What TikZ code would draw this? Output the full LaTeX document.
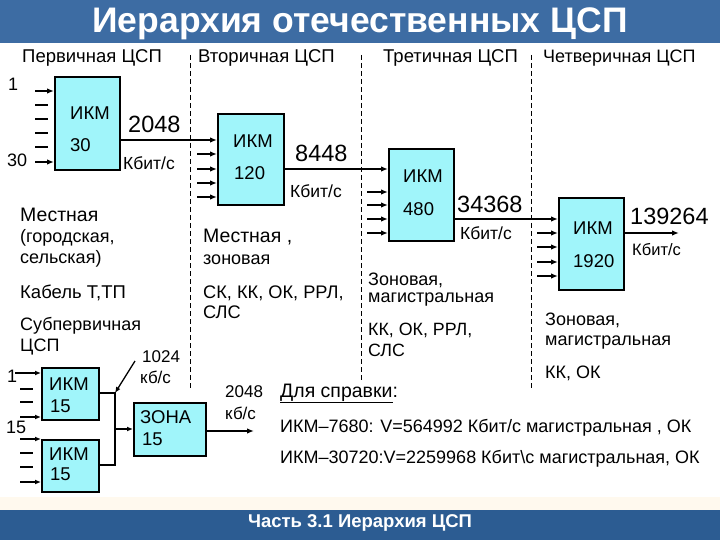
\documentclass[tikz,border=0pt]{standalone}
\usepackage{fontspec}
\setmainfont{Liberation Sans}
\usetikzlibrary{arrows.meta,calc}
\definecolor{titleblue}{RGB}{61,108,163}
\definecolor{footblue}{RGB}{44,92,146}
\definecolor{boxcyan}{RGB}{160,245,250}
\definecolor{creamband}{RGB}{255,249,238}
\newcommand{\fsz}[1]{\fontsize{#1}{#1}\selectfont}
\begin{document}
\begin{tikzpicture}[x=1pt,y=-1pt,
  box/.style={draw=black, line width=2pt, fill=boxcyan, inner sep=0pt, anchor=north west},
  arr/.style={line width=1.8pt, -{Latex[length=7pt,width=5.5pt]}},
  thinarr/.style={line width=1.3pt, -{Latex[length=6pt,width=5pt]}},
  stub/.style={line width=1.8pt},
  sepline/.style={line width=0.8pt, dash pattern=on 5pt off 3pt},
  txt/.style={anchor=base west, inner sep=0pt, font=\fsz{18}},
  boxtxt/.style={anchor=base west, inner sep=0pt, font=\fsz{18.5}},
  head/.style={anchor=base west, inner sep=0pt, font=\fsz{18.5}},
  big/.style={anchor=base west, inner sep=0pt, font=\fsz{23.5}},
  rate/.style={anchor=base west, inner sep=0pt, font=\fsz{17.5}}]
\useasboundingbox (0,0) rectangle (720,540);
\fill[white] (0,0) rectangle (720,540);
\fill[titleblue] (0,0) rectangle (720,43);
\fill[creamband] (0,497) rectangle (720,510);
\fill[footblue] (0,510) rectangle (720,540);
\node[anchor=base, inner sep=0pt, text=white, font=\bfseries\fsz{35.5}] (title) at (360,33) {Иерархия отечественных ЦСП};
\node[anchor=base, inner sep=0pt, text=white, font=\bfseries\fsz{18.5}] (foot) at (360,527) {Часть 3.1 Иерархия ЦСП};

% column headings
\node[head] (h1) at (22,63) {Первичная ЦСП};
\node[head] (h2) at (198,63) {Вторичная ЦСП};
\node[head] (h3) at (383,63) {Третичная ЦСП};
\node[head, font=\fsz{18}] (h4) at (543,63) {Четверичная ЦСП};

% separators
\draw[sepline] (190,55) -- (190,388);
\draw[sepline] (361,55) -- (361,380);
\draw[sepline] (531,55) -- (531,388);

% boxes
\node[box, minimum width=65, minimum height=93] (b1) at (54,76) {};
\node[box, minimum width=66, minimum height=91] (b2) at (217,113) {};
\node[box, minimum width=65, minimum height=92] (b3) at (388,148) {};
\node[box, minimum width=65, minimum height=92] (b4) at (558,197) {};

\node[boxtxt] (b1a) at (70,120) {ИКМ};
\node[boxtxt] (b1b) at (70,152) {30};
\node[boxtxt] (b2a) at (233,148) {ИКМ};
\node[boxtxt] (b2b) at (234,180) {120};
\node[boxtxt] (b3a) at (403,183) {ИКМ};
\node[boxtxt] (b3b) at (403,215) {480};
\node[boxtxt] (b4a) at (573,235) {ИКМ};
\node[boxtxt] (b4b) at (573,267) {1920};

% inputs of box 1
\node[txt] (in1) at (8,91) {1};
\node[txt] (in30) at (7,167) {30};
\draw[arr] ([xshift=-19]b1.west |- 0,91) -- (b1.west |- 0,91);
\foreach \yy in {105,119,133,147} \draw[stub] ([xshift=-19]b1.west |- 0,\yy) -- ([xshift=-6]b1.west |- 0,\yy);
\draw[arr] ([xshift=-19]b1.west |- 0,162) -- (b1.west |- 0,162);

% inputs of box 2,3,4
\foreach \yy in {154,169,183,197} \draw[arr] ([xshift=-20]b2.west |- 0,\yy) -- (b2.west |- 0,\yy);
\foreach \yy in {192,205,219,233} \draw[arr] ([xshift=-21]b3.west |- 0,\yy) -- (b3.west |- 0,\yy);
\foreach \yy in {233,247,262,276} \draw[arr] ([xshift=-21]b4.west |- 0,\yy) -- (b4.west |- 0,\yy);

% links between boxes
\draw[arr] (b1.east |- 0,140) -- (b2.west |- 0,140);
\draw[arr] (b2.east |- 0,169) -- (b3.west |- 0,169);
\draw[arr] (b3.east |- 0,219) -- (b4.west |- 0,219);
\coordinate (out4) at (679,233);
\draw[arr] (b4.east |- out4) -- (out4);

% rates
\node[big] (r1) at (128,133) {2048};
\node[rate] (r1u) at (123,170) {Кбит/с};
\node[big] (r2) at (295,162) {8448};
\node[rate] (r2u) at (290,198) {Кбит/с};
\node[big] (r3) at (457,212) {34368};
\node[rate] (r3u) at (460,240) {Кбит/с};
\node[big] (r4) at (630,225) {139264};
\node[rate, font=\fsz{16.5}] (r4u) at (632,255) {Кбит/с};

% column 1 descriptions
\node[txt, font=\fsz{19.5}] (c1a) at (20,222) {Местная};
\node[txt] (c1b) at (20,242) {(городская,};
\node[txt] (c1c) at (20,263) {сельская)};
\node[txt, font=\fsz{18.5}] (c1d) at (20,298) {Кабель Т,ТП};
\node[txt] (c1e) at (20,330) {Субпервичная};
\node[txt] (c1f) at (20,351) {ЦСП};

% column 2 descriptions
\node[txt, font=\fsz{19.5}] (c2a) at (203,242) {Местная ,};
\node[txt] (c2b) at (203,264) {зоновая};
\node[txt, font=\fsz{18.2}] (c2c) at (203,298) {СК, КК, ОК, РРЛ,};
\node[txt, font=\fsz{18.2}] (c2d) at (203,318) {СЛС};

% column 3 descriptions
\node[txt] (c3a) at (368,285) {Зоновая,};
\node[txt] (c3b) at (368,302) {магистральная};
\node[txt, font=\fsz{17.8}] (c3c) at (368,335) {КК, ОК, РРЛ,};
\node[txt, font=\fsz{17.8}] (c3d) at (368,356) {СЛС};

% column 4 descriptions
\node[txt] (c4a) at (545,325) {Зоновая,};
\node[txt] (c4b) at (545,345) {магистральная};
\node[txt] (c4c) at (545,378) {КК, ОК};

% sub-primary
\node[box, minimum width=57, minimum height=52] (s1) at (41,367) {};
\node[box, minimum width=57, minimum height=52] (s2) at (41,439) {};
\node[box, minimum width=72, minimum height=53] (z) at (133,402) {};
\node[boxtxt] (s1a) at (49,390) {ИКМ};
\node[boxtxt] (s1b) at (50,412) {15};
\node[boxtxt] (s2a) at (49,460) {ИКМ};
\node[boxtxt] (s2b) at (50,480) {15};
\node[boxtxt] (za) at (140,423) {ЗОНА};
\node[boxtxt] (zb) at (142,445) {15};

\node[txt] (sin1) at (7,382) {1};
\node[txt] (sin15) at (6,433) {15};
\draw[thinarr] ([xshift=-26]s1.west |- 0,373) -- (s1.west |- 0,373);
\foreach \yy in {389,402} \draw[stub] ([xshift=-21]s1.west |- 0,\yy) -- ([xshift=-8]s1.west |- 0,\yy);
\draw[thinarr] ([xshift=-21]s1.west |- 0,417) -- (s1.west |- 0,417);
\draw[thinarr] ([xshift=-21]s2.west |- 0,439) -- (s2.west |- 0,439);
\foreach \yy in {453,467} \draw[stub] ([xshift=-21]s2.west |- 0,\yy) -- ([xshift=-8]s2.west |- 0,\yy);
\draw[thinarr] ([xshift=-21]s2.west |- 0,482) -- (s2.west |- 0,482);

\coordinate (bustop) at (115,393);
\coordinate (busbot) at (115,465);
\coordinate (busmid) at (115,429);
\draw[line width=1.3pt] (s1.east |- bustop) -- (bustop) -- (busbot) -- (s2.east |- busbot);
\draw[thinarr] (busmid) -- (z.west |- busmid);
\coordinate (zout) at (254,431);
\draw[arr] (z.east |- zout) -- (zout);

\node[txt, font=\fsz{17}] (k1) at (142,362) {1024};
\node[txt, font=\fsz{17}] (k1u) at (140,383) {кб/с};
\coordinate (kfrom) at (135,361);
\draw[thinarr] (kfrom) -- (bustop);

\node[txt, font=\fsz{17}] (k2) at (225,397) {2048};
\node[txt, font=\fsz{17}] (k2u) at (225,419) {кб/с};

% reference notes
\node[txt, font=\fsz{19.5}] (ref) at (280,397) {\underline{Для справки}:};
\node[txt] (ref1) at (280,432) {ИКМ–7680: V=564992 Кбит/с магистральная , ОК};
\node[txt] (ref2) at (280,463) {ИКМ–30720:V=2259968 Кбит\textbackslash с магистральная, ОК};
\end{tikzpicture}
\end{document}
